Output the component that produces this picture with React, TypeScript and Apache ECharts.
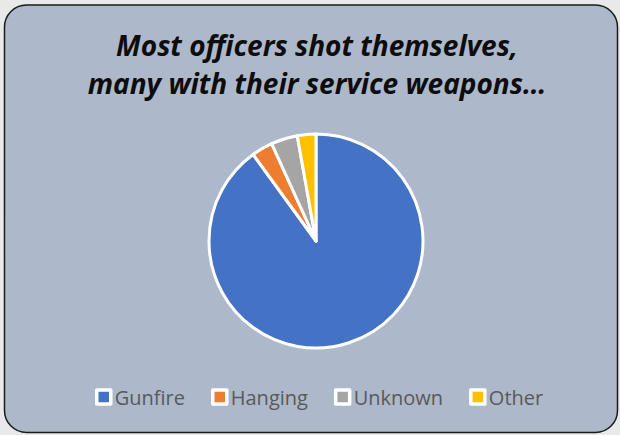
import React, { useEffect, useRef } from "react";
import * as echarts from "echarts";

const categories = ["Gunfire", "Hanging", "Unknown", "Other"];
const values = [90.0, 3.2, 4.0, 2.8];
const colors = ["#4472c4", "#ed7d31", "#a5a5a5", "#ffc000"];
const titleLines = ["Most officers shot themselves,", "many with their service weapons…"];

export default function App() {
  const ref = useRef<HTMLDivElement>(null);
  useEffect(() => {
    document.body.style.margin = "0";
    const chart = echarts.init(ref.current!, null, { renderer: "svg" });
    chart.setOption({
      animation: false,
      backgroundColor: "#e9e9e9",
      graphic: [
        {
          type: "rect",
          z: -10,
          shape: { x: 4.5, y: 5, width: 613, height: 427.5, r: 22 },
          style: { fill: "#adb9ca", stroke: "#1a1a1a", lineWidth: 1.5 },
        },
      ],
      title: {
        text: titleLines.join("\n"),
        left: 312,
        textAlign: "center",
        top: 21,
        textStyle: {
          fontFamily: "Open Sans",
          fontSize: 28,
          fontWeight: "bold",
          fontStyle: "italic",
          color: "#0d0d0d",
          lineHeight: 38,
        },
      },
      legend: {
        data: categories,
        bottom: 23,
        left: 90,
        itemWidth: 14,
        itemHeight: 14,
        itemGap: 26,
        icon: "rect",
        itemStyle: { borderColor: "#ffffff", borderWidth: 3.5 },
        textStyle: { fontFamily: "Open Sans", fontSize: 20, color: "#595959", padding: [0, 0, 0, -1] },
      },
      series: [
        {
          type: "pie",
          center: [316, 241],
          radius: 107,
          startAngle: 90,
          clockwise: true,
          label: { show: false },
          labelLine: { show: false },
          emphasis: { disabled: true },
          itemStyle: { borderColor: "#ffffff", borderWidth: 3 },
          data: categories.map((c, i) => ({
            name: c,
            value: values[i],
            itemStyle: { color: colors[i] },
          })),
        },
      ],
    });
    return () => chart.dispose();
  }, []);
  return <div ref={ref} style={{ width: 620, height: 435 }} />;
}
